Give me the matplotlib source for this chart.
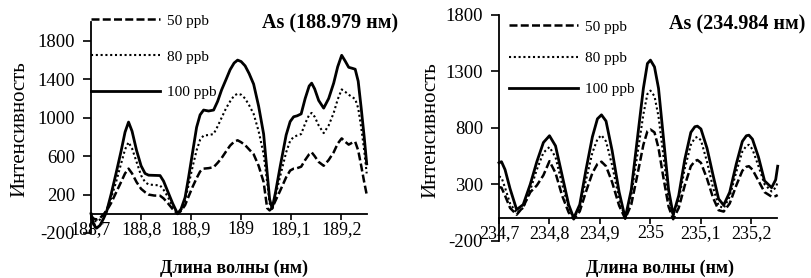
import matplotlib
matplotlib.use("Agg")
import matplotlib.pyplot as plt

plt.rcParams['font.family'] = ['Liberation Serif', 'DejaVu Serif']
plt.rcParams['axes.unicode_minus'] = False

# --- As 188.979 nm ---
wl_188 = [188.700, 188.705, 188.711, 188.718, 188.725, 188.731, 188.740, 188.750, 188.760, 188.768,
          188.775, 188.782, 188.791, 188.800, 188.808, 188.815, 188.826, 188.838, 188.845, 188.852,
          188.863, 188.873, 188.880, 188.888, 188.895, 188.903, 188.911, 188.918, 188.925, 188.935,
          188.945, 188.953, 188.961, 188.970, 188.978, 188.986, 188.993, 189.000, 189.008, 189.016,
          189.025, 189.035, 189.045, 189.052, 189.057, 189.062, 189.069, 189.078, 189.090, 189.098,
          189.105, 189.112, 189.120, 189.128, 189.136, 189.141, 189.147, 189.155, 189.165, 189.175,
          189.185, 189.193, 189.201, 189.208, 189.215, 189.222, 189.228, 189.234, 189.240, 189.246,
          189.251]
ppb50_188 = [-20, -50, -60, -45, -5, 30, 110, 220, 330, 420,
             470, 420, 330, 260, 225, 200, 190, 188, 160, 120,
             50, 0, 30, 90, 180, 280, 370, 440, 470, 475,
             485, 530, 580, 650, 710, 750, 765, 745, 715, 670,
             620, 500, 330, 60, 35, 60, 140, 240, 380, 450,
             470, 475, 490, 560, 620, 640, 600, 540, 500, 560,
             640, 730, 785, 750, 720, 740, 750, 660, 500, 330,
             200]
ppb80_188 = [-40, -70, -80, -60, -10, 40, 160, 330, 520, 670,
             745, 680, 540, 400, 330, 305, 300, 295, 250, 190,
             80, -5, 40, 140, 300, 490, 660, 770, 815, 820,
             830, 910, 1000, 1100, 1170, 1230, 1250, 1240, 1200, 1130,
             1040, 860, 620, 330, 110, 40, 190, 390, 640, 760,
             800, 815, 830, 940, 1030, 1050, 1010, 920, 840, 920,
             1050, 1190, 1295, 1270, 1240, 1215, 1195, 1100, 900, 660,
             420]
ppb100_188 = [0, -110, -150, -120, -50, 20, 200, 420, 650, 850,
              955, 860, 660, 500, 420, 402, 400, 398, 340, 250,
              110, 0, 50, 170, 380, 640, 900, 1030, 1080, 1070,
              1080, 1170, 1290, 1400, 1500, 1570, 1600, 1585, 1540, 1460,
              1350, 1120, 830, 430, 150, 55, 230, 490, 820, 960,
              1010, 1020, 1040, 1200, 1330, 1360, 1300, 1180, 1100, 1200,
              1360, 1530, 1650, 1590, 1525, 1515, 1505, 1380, 1100, 800,
              520]

# --- As 234.984 nm ---
wl_234 = [234.700, 234.705, 234.712, 234.722, 234.735, 234.748, 234.762, 234.775, 234.788, 234.800,
          234.812, 234.825, 234.838, 234.848, 234.860, 234.872, 234.885, 234.895, 234.903, 234.912,
          234.924, 234.938, 234.950, 234.962, 234.974, 234.986, 234.994, 235.000, 235.008, 235.016,
          235.026, 235.036, 235.045, 235.056, 235.068, 235.080, 235.088, 235.093, 235.100, 235.112,
          235.124, 235.135, 235.145, 235.157, 235.170, 235.182, 235.190, 235.195, 235.202, 235.214,
          235.226, 235.240, 235.248, 235.252]
ppb50_234 = [275, 270, 200, 90, 30, 100, 230, 290, 380, 505,
             400, 200, 50, -10, 60, 230, 400, 480, 500, 460,
             320, 110, -5, 120, 380, 650, 770, 785, 760, 620,
             350, 100, -10, 90, 290, 460, 505, 515, 490, 350,
             180, 70, 58, 130, 290, 420, 455, 460, 430, 330,
             230, 190, 195, 205]
ppb80_234 = [370, 360, 270, 130, 45, 90, 250, 430, 580, 630,
             540, 300, 90, 0, 90, 330, 580, 700, 735, 680,
             470, 170, 0, 200, 560, 920, 1100, 1130, 1080, 900,
             540, 180, 20, 160, 440, 650, 710, 720, 690, 500,
             270, 110, 88, 190, 410, 590, 640, 650, 610, 460,
             300, 236, 270, 320]
ppb100_234 = [490, 500, 430, 260, 75, 120, 300, 500, 670, 730,
              640, 380, 120, 0, 120, 420, 720, 880, 915, 860,
              600, 230, 0, 250, 700, 1150, 1370, 1400, 1340, 1150,
              700, 250, 30, 200, 520, 760, 810, 815, 790, 620,
              380, 170, 115, 230, 480, 680, 730, 735, 700, 540,
              330, 270, 340, 460]

labels = ['50 ppb', '80 ppb', '100 ppb']
ticks_188 = [188.7, 188.8, 188.9, 189.0, 189.1, 189.2]
ticklabels_188 = ['188,7', '188,8', '188,9', '189', '189,1', '189,2']
ticks_234 = [234.7, 234.8, 234.9, 235.0, 235.1, 235.2]
ticklabels_234 = ['234,7', '234,8', '234,9', '235', '235,1', '235,2']
yticks_188 = [-200, 200, 600, 1000, 1400, 1800]
yticks_234 = [-200, 300, 800, 1300, 1800]

styles = [dict(color='black', lw=1.8, dashes=(3.2, 1.3)),
          dict(color='black', lw=1.5, dashes=(1.0, 1.3)),
          dict(color='black', lw=2.0, linestyle='-')]

fig = plt.figure(figsize=(8.12, 2.78), dpi=100)
ax1 = fig.add_axes([0.1121, 0.1619, 0.3395, 0.7601])
ax2 = fig.add_axes([0.6145, 0.1342, 0.3420, 0.8119])


def style_axes(ax, xt, xtl, yt, xlim, ylim):
    ax.set_xlim(*xlim)
    ax.set_ylim(*ylim)
    ax.spines['top'].set_visible(False)
    ax.spines['right'].set_visible(False)
    ax.spines['bottom'].set_position(('data', 0))
    ax.spines['left'].set_linewidth(1.3)
    ax.spines['bottom'].set_linewidth(1.3)
    ax.set_xticks(xt)
    ax.set_xticklabels(xtl)
    ax.set_yticks(yt)
    ax.tick_params(axis='x', direction='out', length=4, width=1.2, pad=1, labelsize=13)
    ax.tick_params(axis='y', direction='out', length=5.5, width=1.2, pad=6, labelsize=13.5)


for ys, st, lab in zip([ppb50_188, ppb80_188, ppb100_188], styles, labels):
    ax1.plot(wl_188, ys, label=lab, clip_on=False, **st)
for ys, st, lab in zip([ppb50_234, ppb80_234, ppb100_234], styles, labels):
    ax2.plot(wl_234, ys, label=lab, clip_on=False, **st)

style_axes(ax1, ticks_188, ticklabels_188, yticks_188, (188.7, 189.251), (-200, 2000))
style_axes(ax2, ticks_234, ticklabels_234, yticks_234, (234.7, 235.25), (-200, 1800))

ax1.legend(loc='upper left', bbox_to_anchor=(0.0, 1.036), frameon=False, fontsize=11,
           handlelength=4.5, handletextpad=0.45, labelspacing=1.45, borderpad=0, borderaxespad=0)
ax2.legend(loc='upper left', bbox_to_anchor=(0.036, 0.978), frameon=False, fontsize=11,
           handlelength=4.5, handletextpad=0.45, labelspacing=1.15, borderpad=0, borderaxespad=0)

ax1.text(1.113, 0.993, 'As (188.979 нм)', transform=ax1.transAxes, ha='right', va='center',
         fontsize=14.5, fontweight='bold')
ax2.text(1.102, 0.956, 'As (234.984 нм)', transform=ax2.transAxes, ha='right', va='center',
         fontsize=14.5, fontweight='bold')

fig.text(0.024, 0.535, 'Интенсивность', rotation=90, ha='center', va='center', fontsize=15)
fig.text(0.531, 0.532, 'Интенсивность', rotation=90, ha='center', va='center', fontsize=15)
fig.text(0.288, 0.036, 'Длина волны (нм)', ha='center', va='center', fontsize=13, fontweight='bold')
fig.text(0.813, 0.036, 'Длина волны (нм)', ha='center', va='center', fontsize=13, fontweight='bold')

fig.savefig('out.png', dpi=100)
